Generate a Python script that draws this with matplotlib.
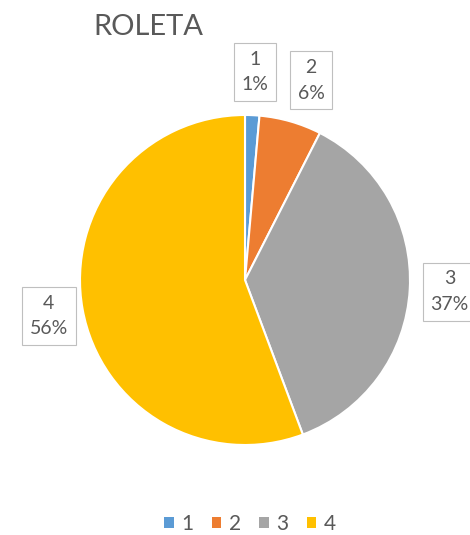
import matplotlib
matplotlib.use("Agg")
import matplotlib.pyplot as plt
from matplotlib.patches import Patch

# dados da roleta
categorias = ["1", "2", "3", "4"]
valores = [1.4, 6.1, 36.8, 55.7]
cores = ["#5B9BD5", "#ED7D31", "#A5A5A5", "#FFC000"]

# posicao das caixas de rotulo (coord. do eixo, raio = 1)
pos_rotulos = [(0.06, 1.26), (0.40, 1.21), (1.24, -0.07), (-1.19, -0.22)]

cinza = "#595959"
plt.rcParams['font.family'] = ['Lato', 'DejaVu Sans']

fig = plt.figure(figsize=(4.7, 5.35), dpi=100)
W, H = 470, 535
cx, cy, r = 245, 280, 165
ax = fig.add_axes([(cx - r) / W, (H - cy - r) / H, 2 * r / W, 2 * r / H])

ax.pie(valores, colors=cores, startangle=90, counterclock=False,
       radius=1, wedgeprops=dict(edgecolor="white", linewidth=1.5))
# pie() mexe nos limites, entao ajusta depois
ax.set_xlim(-1, 1)
ax.set_ylim(-1, 1)
ax.set_aspect("equal")
ax.axis("off")

total = sum(valores)
for cat, v, (x, y) in zip(categorias, valores, pos_rotulos):
    txt = "%s\n%d%%" % (cat, round(100 * v / total))
    ax.text(x, y, txt, ha="center", va="center", fontsize=14, color=cinza,
            linespacing=1.6, clip_on=False,
            bbox=dict(boxstyle="square,pad=0.4", fc="white", ec="#BFBFBF", lw=0.8))

fig.text(93 / W, 1 - 27 / H, "ROLETA", fontsize=21, color=cinza,
         ha="left", va="center")

handles = [Patch(facecolor=c, edgecolor="none") for c in cores]
fig.legend(handles, categorias, loc="center", bbox_to_anchor=(250 / W, 1 - 524 / H),
           ncol=4, frameon=False, fontsize=15, labelcolor=cinza,
           handlelength=0.45, handleheight=0.45, handletextpad=0.35, columnspacing=0.9)

fig.savefig("out.png", dpi=100)
